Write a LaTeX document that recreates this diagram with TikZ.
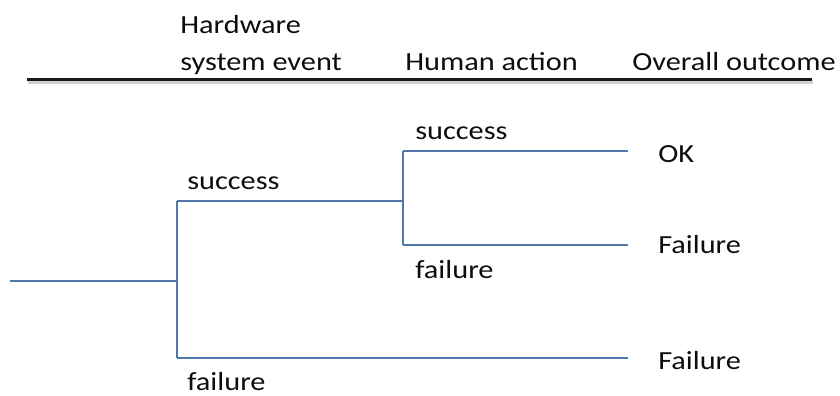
\documentclass[tikz,border=0pt]{standalone}
\usepackage{fontspec}
\setmainfont{Carlito}[FakeStretch=1.16]
\usetikzlibrary{calc}
\definecolor{branchblue}{HTML}{4F77AA}
\definecolor{ruleink}{HTML}{1A1A1A}
\begin{document}
\begin{tikzpicture}[x=0.75pt,y=-0.75pt,
  lbl/.style={anchor=base west,inner sep=0pt,font=\fontsize{19.6}{23}\selectfont,text=black!95},
  branch/.style={draw=branchblue,line width=1.5pt},
  headrule/.style={draw=ruleink,line width=2pt}]
\useasboundingbox (0,0) rectangle (840,396);

% column headings
\node[lbl] (hw1) at (180,33) {Hardware};
\node[lbl] (hw2) at (180,70) {system event};
\node[lbl] (hum) at (405,70) {Human action};
\node[lbl] (out) at (632,70) {Overall outcome};

% heading rule with soft shadow
\coordinate (ruleL) at (27,79.5);
\coordinate (ruleR) at (812,79.5);
\draw[draw=black!18,line width=2.5pt] ($(ruleL)+(1,3)$) -- ($(ruleR)+(1,3)$);
\draw[headrule] (ruleL) -- (ruleR);

% branch points
\coordinate (start) at (10,281);
\coordinate (hwfork) at (177,281);
\coordinate (hwok) at (177,200.5);
\coordinate (hwfail) at (177,358);
\coordinate (humfork) at (403,200.5);
\coordinate (humok) at (403,150.5);
\coordinate (humfail) at (403,244.5);
\coordinate (endok) at (628,150.5);
\coordinate (endhf) at (628,244.5);
\coordinate (endfail) at (628,358);

% event tree
\draw[branch] (start) -- (hwfork);
\draw[branch] (hwok) -- (hwfail);
\draw[branch] (hwok) -- (humfork);
\draw[branch] (hwfail) -- (endfail);
\draw[branch] (humok) -- (humfail);
\draw[branch] (humok) -- (endok);
\draw[branch] (humfail) -- (endhf);

% branch labels
\node[lbl] (s1) at (187,189.5) {success};
\node[lbl] (f1) at (187,390) {failure};
\node[lbl] (s2) at (415,139) {success};
\node[lbl] (f2) at (415,278) {failure};

% outcomes
\node[lbl] (o1) at (658,162) {OK};
\node[lbl] (o2) at (658,253) {Failure};
\node[lbl] (o3) at (658,369) {Failure};
\end{tikzpicture}
\end{document}
